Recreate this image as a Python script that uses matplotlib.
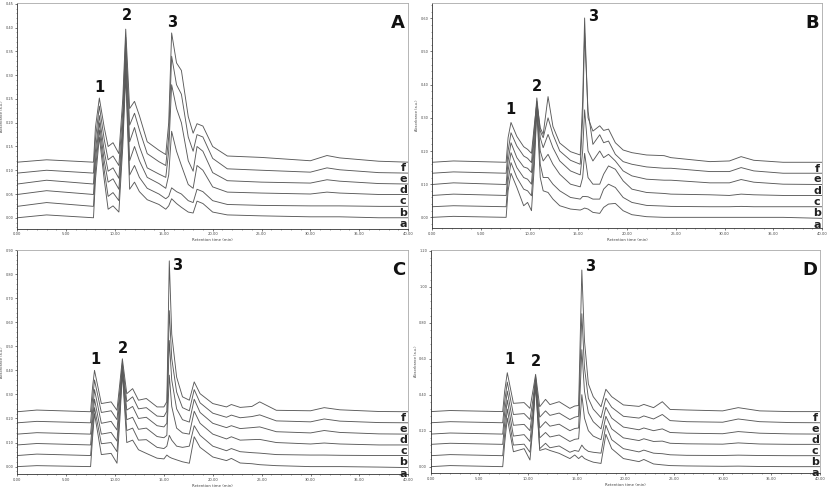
import matplotlib
matplotlib.use("Agg")
import matplotlib.pyplot as plt
from matplotlib.ticker import MultipleLocator, FormatStrFormatter

# retention time (min) and absorbance (a.u.)
TRACES = ["a", "b", "c", "d", "e", "f"]
PEAKS = ["1", "2", "3"]

# ---- panel A ----
T_A = [0, 3, 7.8, 8.0, 8.4, 8.9, 9.3, 9.8, 10.4, 10.8, 11.1, 11.5, 12.0, 12.5, 13.3,
       14.5, 15.2, 15.5, 15.8, 16.3, 16.8, 17.5, 18.0, 18.4, 19.0, 20.0, 21.5, 25, 30,
       31.7, 33, 37, 40]
A_a = [0.000, 0.006, 0.000, 0.080, 0.170, 0.080, 0.018, 0.025, 0.012, 0.150, 0.300, 0.060,
       0.075, 0.055, 0.038, 0.028, 0.018, 0.025, 0.040, 0.030, 0.022, 0.012, 0.010, 0.035,
       0.030, 0.012, 0.006, 0.004, 0.002, 0.002, 0.002, 0.000, 0.000]
A_b = [0.024, 0.032, 0.024, 0.100, 0.185, 0.100, 0.045, 0.053, 0.036, 0.170, 0.320, 0.090,
       0.110, 0.085, 0.062, 0.050, 0.040, 0.045, 0.063, 0.055, 0.050, 0.036, 0.032, 0.060,
       0.055, 0.036, 0.028, 0.026, 0.025, 0.025, 0.025, 0.024, 0.024]
A_c = [0.049, 0.057, 0.049, 0.120, 0.200, 0.120, 0.075, 0.082, 0.060, 0.185, 0.340, 0.120,
       0.150, 0.120, 0.085, 0.072, 0.062, 0.090, 0.182, 0.140, 0.110, 0.070, 0.062, 0.110,
       0.100, 0.065, 0.054, 0.052, 0.050, 0.054, 0.052, 0.049, 0.049]
A_d = [0.071, 0.079, 0.071, 0.140, 0.215, 0.140, 0.098, 0.105, 0.083, 0.200, 0.360, 0.160,
       0.190, 0.150, 0.105, 0.092, 0.085, 0.140, 0.280, 0.230, 0.200, 0.120, 0.098, 0.150,
       0.140, 0.095, 0.078, 0.075, 0.073, 0.080, 0.077, 0.072, 0.071]
A_e = [0.094, 0.100, 0.094, 0.165, 0.235, 0.165, 0.122, 0.130, 0.110, 0.225, 0.380, 0.195,
       0.220, 0.185, 0.135, 0.118, 0.110, 0.170, 0.340, 0.280, 0.260, 0.170, 0.140, 0.175,
       0.170, 0.125, 0.103, 0.100, 0.096, 0.105, 0.101, 0.095, 0.094]
A_f = [0.117, 0.122, 0.117, 0.190, 0.252, 0.190, 0.150, 0.158, 0.135, 0.250, 0.397, 0.230,
       0.245, 0.215, 0.160, 0.142, 0.133, 0.200, 0.389, 0.326, 0.310, 0.213, 0.178, 0.198,
       0.193, 0.150, 0.130, 0.127, 0.120, 0.131, 0.126, 0.119, 0.117]
A_PEAK_X = [8.36, 11.26, 15.87]
A_PEAK_Y = [0.275, 0.425, 0.411]

# ---- panel B ----
T_B = [0, 2.2, 7.6, 7.8, 8.1, 8.7, 9.4, 9.8, 10.2, 10.5, 10.75, 11.1, 11.4, 11.9, 12.4,
       13.1, 14.2, 15.2, 15.45, 15.65, 16.0, 16.5, 17.2, 17.6, 18.1, 18.8, 19.6, 20.5, 22,
       23.8, 24.5, 28.5, 30.5, 31.7, 33, 36, 40]
B_a = [0.000, 0.003, 0.000, 0.080, 0.133, 0.090, 0.035, 0.045, 0.020, 0.160, 0.320, 0.120,
       0.080, 0.075, 0.055, 0.035, 0.025, 0.022, 0.025, 0.028, 0.025, 0.015, 0.012, 0.030,
       0.040, 0.042, 0.020, 0.008, 0.002, 0.000, 0.000, 0.000, 0.000, 0.000, 0.000, 0.000,
       -0.003]
B_b = [0.032, 0.035, 0.032, 0.110, 0.165, 0.120, 0.085, 0.080, 0.065, 0.190, 0.330, 0.160,
       0.120, 0.120, 0.100, 0.080, 0.060, 0.055, 0.063, 0.063, 0.062, 0.055, 0.055, 0.085,
       0.100, 0.090, 0.060, 0.045, 0.036, 0.034, 0.033, 0.032, 0.032, 0.033, 0.032, 0.032,
       0.032]
B_c = [0.066, 0.070, 0.066, 0.140, 0.195, 0.150, 0.120, 0.115, 0.100, 0.220, 0.340, 0.200,
       0.170, 0.190, 0.160, 0.130, 0.100, 0.092, 0.120, 0.193, 0.120, 0.100, 0.100, 0.130,
       0.155, 0.145, 0.110, 0.085, 0.075, 0.072, 0.070, 0.068, 0.066, 0.070, 0.068, 0.066,
       0.066]
B_d = [0.099, 0.104, 0.099, 0.170, 0.225, 0.180, 0.152, 0.148, 0.135, 0.250, 0.350, 0.240,
       0.210, 0.250, 0.210, 0.170, 0.140, 0.128, 0.200, 0.324, 0.200, 0.170, 0.200, 0.180,
       0.190, 0.170, 0.140, 0.125, 0.115, 0.112, 0.112, 0.104, 0.104, 0.114, 0.106, 0.100,
       0.099]
B_e = [0.133, 0.137, 0.133, 0.200, 0.255, 0.215, 0.185, 0.178, 0.165, 0.270, 0.360, 0.260,
       0.240, 0.300, 0.250, 0.200, 0.172, 0.160, 0.300, 0.555, 0.320, 0.220, 0.249, 0.225,
       0.230, 0.190, 0.168, 0.160, 0.152, 0.148, 0.148, 0.138, 0.138, 0.150, 0.140, 0.133,
       0.133]
B_f = [0.166, 0.170, 0.166, 0.240, 0.286, 0.244, 0.213, 0.205, 0.193, 0.280, 0.345, 0.270,
       0.250, 0.364, 0.274, 0.224, 0.198, 0.188, 0.350, 0.601, 0.300, 0.260, 0.276, 0.262,
       0.266, 0.225, 0.203, 0.195, 0.188, 0.186, 0.180, 0.168, 0.170, 0.183, 0.172, 0.166,
       0.166]
B_PEAK_X = [8.0, 10.77, 16.48]
B_PEAK_Y = [0.324, 0.393, 0.606]

# ---- panel C ----
T_C = [0, 2.0, 7.5, 7.7, 7.9, 8.6, 9.6, 10.2, 10.5, 10.75, 11.2, 11.8, 12.4, 13.2, 14.3,
       15.0, 15.3, 15.55, 15.8, 16.3, 16.9, 17.6, 18.1, 18.7, 20.0, 21.4, 21.9, 22.8, 24.0,
       24.8, 26.5, 30.0, 31.4, 33, 37, 40]
C_a = [0.000, 0.004, 0.000, 0.120, 0.220, 0.050, 0.055, 0.014, 0.200, 0.390, 0.100, 0.110,
       0.070, 0.055, 0.035, 0.032, 0.048, 0.040, 0.035, 0.028, 0.020, 0.014, 0.124, 0.080,
       0.040, 0.025, 0.034, 0.015, 0.012, 0.008, 0.004, 0.000, 0.000, 0.000, -0.002, -0.004]
C_b = [0.046, 0.052, 0.046, 0.150, 0.245, 0.095, 0.100, 0.062, 0.230, 0.400, 0.150, 0.160,
       0.110, 0.112, 0.080, 0.075, 0.085, 0.130, 0.110, 0.085, 0.080, 0.085, 0.170, 0.130,
       0.085, 0.066, 0.075, 0.062, 0.058, 0.056, 0.050, 0.048, 0.048, 0.047, 0.046, 0.046]
C_c = [0.090, 0.096, 0.090, 0.190, 0.280, 0.135, 0.142, 0.106, 0.260, 0.410, 0.195, 0.205,
       0.155, 0.160, 0.125, 0.120, 0.130, 0.380, 0.250, 0.160, 0.140, 0.135, 0.230, 0.180,
       0.135, 0.115, 0.124, 0.110, 0.112, 0.113, 0.100, 0.094, 0.098, 0.094, 0.090, 0.090]
C_d = [0.135, 0.141, 0.135, 0.230, 0.320, 0.180, 0.188, 0.152, 0.290, 0.420, 0.235, 0.250,
       0.200, 0.205, 0.170, 0.165, 0.180, 0.524, 0.360, 0.240, 0.195, 0.185, 0.280, 0.225,
       0.180, 0.162, 0.170, 0.158, 0.162, 0.165, 0.145, 0.140, 0.150, 0.142, 0.136, 0.135]
C_e = [0.182, 0.188, 0.182, 0.280, 0.360, 0.225, 0.232, 0.195, 0.320, 0.430, 0.270, 0.290,
       0.240, 0.245, 0.210, 0.208, 0.230, 0.648, 0.450, 0.310, 0.245, 0.232, 0.320, 0.265,
       0.222, 0.205, 0.214, 0.203, 0.208, 0.215, 0.190, 0.186, 0.198, 0.189, 0.183, 0.182]
C_f = [0.228, 0.235, 0.228, 0.330, 0.400, 0.262, 0.269, 0.234, 0.350, 0.448, 0.303, 0.324,
       0.276, 0.283, 0.248, 0.248, 0.270, 0.855, 0.550, 0.372, 0.290, 0.276, 0.352, 0.303,
       0.262, 0.248, 0.258, 0.246, 0.250, 0.269, 0.234, 0.232, 0.245, 0.236, 0.229, 0.228]
C_PEAK_X = [7.95, 10.78, 16.4]
C_PEAK_Y = [0.446, 0.492, 0.834]

# ---- panel D ----
T_D = [0, 2.0, 7.4, 7.6, 7.87, 8.5, 9.6, 10.2, 10.5, 10.78, 11.2, 11.8, 12.25, 13.2, 14.3,
       14.8, 15.2, 15.53, 15.8, 16.2, 16.7, 17.5, 18.0, 18.6, 19.8, 21.4, 21.9, 22.9, 23.8,
       24.6, 26.3, 30.0, 31.6, 33.8, 37, 40]
D_a = [0.000, 0.006, 0.000, 0.130, 0.270, 0.083, 0.100, 0.037, 0.220, 0.450, 0.090, 0.100,
       0.090, 0.074, 0.045, 0.065, 0.045, 0.060, 0.045, 0.035, 0.025, 0.018, 0.180, 0.100,
       0.045, 0.028, 0.040, 0.015, 0.010, 0.006, 0.004, 0.002, 0.003, 0.001, 0.000, 0.000]
D_b = [0.061, 0.067, 0.061, 0.180, 0.320, 0.120, 0.125, 0.080, 0.250, 0.465, 0.100, 0.130,
       0.105, 0.115, 0.080, 0.090, 0.085, 0.120, 0.100, 0.085, 0.080, 0.075, 0.230, 0.150,
       0.100, 0.082, 0.092, 0.075, 0.072, 0.066, 0.063, 0.062, 0.064, 0.062, 0.061, 0.061]
D_c = [0.124, 0.130, 0.124, 0.240, 0.370, 0.170, 0.178, 0.140, 0.290, 0.480, 0.160, 0.190,
       0.165, 0.176, 0.140, 0.152, 0.155, 0.400, 0.270, 0.200, 0.170, 0.150, 0.280, 0.210,
       0.160, 0.145, 0.155, 0.140, 0.142, 0.130, 0.127, 0.125, 0.132, 0.126, 0.124, 0.124]
D_d = [0.181, 0.187, 0.181, 0.300, 0.420, 0.230, 0.235, 0.200, 0.330, 0.490, 0.215, 0.250,
       0.225, 0.236, 0.200, 0.212, 0.215, 0.650, 0.420, 0.300, 0.250, 0.210, 0.330, 0.270,
       0.220, 0.205, 0.215, 0.200, 0.210, 0.190, 0.186, 0.183, 0.195, 0.186, 0.182, 0.181]
D_e = [0.244, 0.250, 0.244, 0.360, 0.470, 0.290, 0.295, 0.262, 0.370, 0.500, 0.275, 0.310,
       0.285, 0.298, 0.262, 0.275, 0.280, 0.850, 0.550, 0.380, 0.320, 0.272, 0.380, 0.330,
       0.280, 0.270, 0.282, 0.265, 0.290, 0.256, 0.250, 0.247, 0.265, 0.250, 0.245, 0.244]
D_f = [0.306, 0.312, 0.306, 0.420, 0.522, 0.352, 0.356, 0.324, 0.420, 0.513, 0.333, 0.374,
       0.345, 0.361, 0.324, 0.337, 0.340, 1.093, 0.700, 0.460, 0.389, 0.333, 0.430, 0.389,
       0.343, 0.335, 0.346, 0.328, 0.361, 0.318, 0.315, 0.310, 0.328, 0.310, 0.306, 0.306]
D_PEAK_X = [8.04, 10.85, 16.36]
D_PEAK_Y = [0.593, 0.583, 1.11]


# =============================================================================
# FIGURE
# =============================================================================

panels = [
    # letter, time, traces, peak x, peak y, axes rect, ylim, y step
    ("A", T_A, [A_a, A_b, A_c, A_d, A_e, A_f], A_PEAK_X, A_PEAK_Y,
     [0.0209, 0.538, 0.4725, 0.4559], (-0.023, 0.452), 0.05),
    ("B", T_B, [B_a, B_b, B_c, B_d, B_e, B_f], B_PEAK_X, B_PEAK_Y,
     [0.5224, 0.5388, 0.4716, 0.4557], (-0.033, 0.647), 0.10),
    ("C", T_C, [C_a, C_b, C_c, C_d, C_e, C_f], C_PEAK_X, C_PEAK_Y,
     [0.0209, 0.0418, 0.4728, 0.4531], (-0.032, 0.90), 0.10),
    ("D", T_D, [D_a, D_b, D_c, D_d, D_e, D_f], D_PEAK_X, D_PEAK_Y,
     [0.5208, 0.0438, 0.4707, 0.4511], (-0.037, 1.204), 0.20),
]

fig = plt.figure(figsize=(8.27, 4.95), dpi=100)

for letter, t, traces, px, py, rect, ylim, ystep in panels:
    ax = fig.add_axes(rect)

    for name, vals in zip(TRACES, traces):
        ax.plot(t, vals, color="#5a5a5a", linewidth=0.65)
        # trace letter just under the right end of its baseline
        ax.annotate(name, xy=(40, vals[-1]), xytext=(-3.5, -4.5),
                    textcoords="offset points", ha="center", va="center",
                    fontsize=8, fontweight="bold", color="#222222")

    for lab, x, y in zip(PEAKS, px, py):
        ax.text(x, y, lab, ha="center", va="center", fontsize=10.5,
                fontweight="bold", color="#111111")

    ax.text(0.975, 0.91, letter, transform=ax.transAxes, ha="center", va="center",
            fontsize=13, fontweight="bold", color="#111111")

    ax.set_xlim(0, 40)
    ax.set_ylim(*ylim)
    ax.xaxis.set_major_locator(MultipleLocator(5))
    ax.xaxis.set_minor_locator(MultipleLocator(1))
    ax.yaxis.set_major_locator(MultipleLocator(ystep))
    ax.yaxis.set_minor_locator(MultipleLocator(ystep / 5))
    ax.xaxis.set_major_formatter(FormatStrFormatter("%.2f"))
    ax.yaxis.set_major_formatter(FormatStrFormatter("%.2f"))
    ax.tick_params(which="major", length=1.6, width=0.5, pad=1.0, colors="#444444")
    ax.tick_params(axis="x", labelsize=2.7)
    ax.tick_params(axis="y", labelsize=2.5)
    ax.tick_params(which="minor", length=0.9, width=0.4, colors="#555555")

    ax.set_xlabel("Retention time (min)", fontsize=2.8, labelpad=1.5, color="#444444")
    ax.set_ylabel("Absorbance (a.u.)", fontsize=2.5, color="#444444")
    ax.yaxis.set_label_coords(-0.033, 0.5)

    for side in ["left", "bottom"]:
        ax.spines[side].set_color("#333333")
        ax.spines[side].set_linewidth(0.6)
    for side in ["top", "right"]:
        ax.spines[side].set_color("#aaaaaa")
        ax.spines[side].set_linewidth(0.6)

fig.savefig("out.png", dpi=100)
